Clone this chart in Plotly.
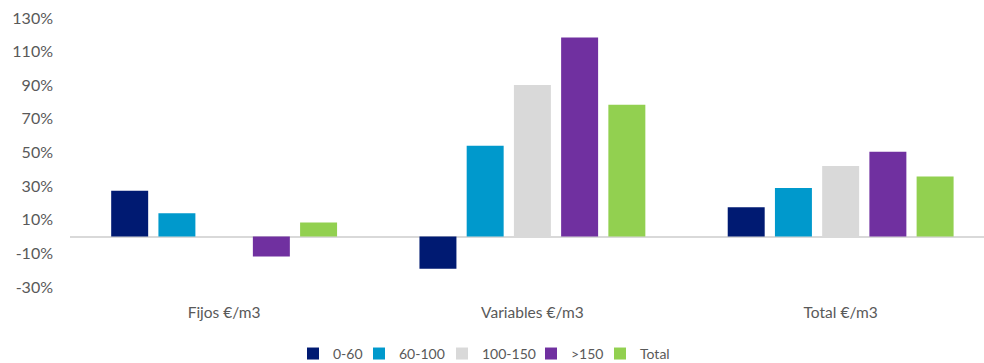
import plotly.graph_objects as go

categories = ["Fijos €/m3", "Variables €/m3", "Total €/m3"]
series_names = ["0-60", "60-100", "100-150", ">150", "Total"]
v_0_60 = [27.2, -19.2, 17.4]
v_60_100 = [13.9, 54.0, 28.9]
v_100_150 = [0.0, 90.1, 42.0]
v_gt150 = [-11.9, 118.4, 50.5]
v_total = [8.3, 78.4, 35.7]
colors = ["#001A72", "#0099CC", "#D9D9D9", "#7030A0", "#92D050"]
y_ticks = [-30, -10, 10, 30, 50, 70, 90, 110, 130]
legend_marker_px = [309, 375, 458, 547, 616]

fig = go.Figure()
legend_ids = ["legend", "legend2", "legend3", "legend4", "legend5"]
for name, vals, col, lid in zip(series_names, [v_0_60, v_60_100, v_100_150, v_gt150, v_total], colors, legend_ids):
    fig.add_trace(go.Bar(name=name, x=categories, y=vals, legend=lid,
                         marker=dict(color=col, line=dict(width=0))))

font_fam = "Lato, 'Open Sans', sans-serif"
layout_legends = {}
for lid, px in zip(legend_ids, legend_marker_px):
    layout_legends[lid] = dict(orientation="h", xref="container", yref="container",
                               x=(px - 16) / 984, y=0.025, xanchor="left", yanchor="middle",
                               font=dict(size=14, color="#595959"), itemwidth=30,
                               bgcolor="rgba(0,0,0,0)")

fig.update_layout(
    width=984, height=363,
    margin=dict(l=70, r=0, t=18, b=76),
    plot_bgcolor="white", paper_bgcolor="white",
    barmode="group", bargap=0.234, bargroupgap=0.217,
    font=dict(family=font_fam, size=14, color="#595959"),
    showlegend=True,
    xaxis=dict(range=[-0.5, 2.465], showline=False, showgrid=False, ticks="outside",
               ticklen=11, tickcolor="rgba(0,0,0,0)", tickfont=dict(size=15.5, color="#595959")),
    yaxis=dict(range=[-30, 130], tickvals=y_ticks, ticktext=[f"{t}%" for t in y_ticks],
               showgrid=False, showline=False, zeroline=True, zerolinecolor="#D9D9D9",
               zerolinewidth=2, ticklabelstandoff=16, tickfont=dict(size=16, color="#595959")),
    **layout_legends,
)
fig.write_html("out.html")
